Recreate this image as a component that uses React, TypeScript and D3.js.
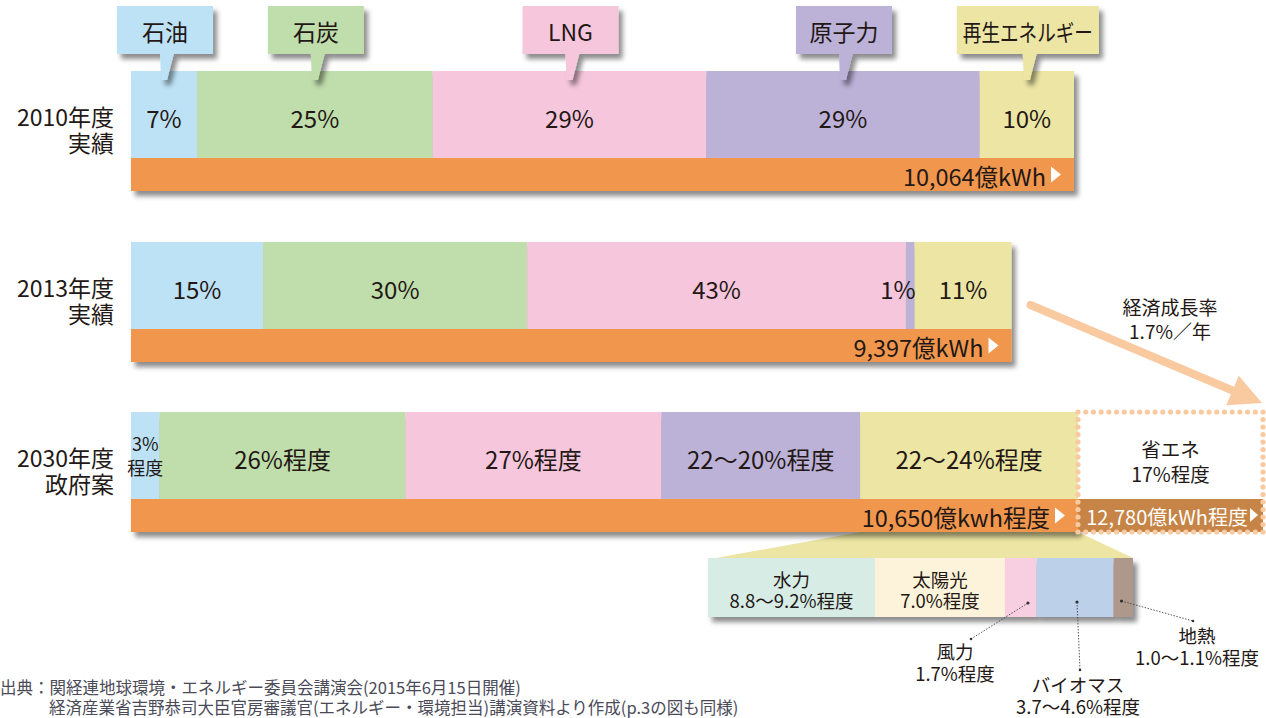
import React from 'react';
import * as d3 from 'd3';

// ---------- data ----------
const categories = ['石油', '石炭', 'LNG', '原子力', '再生エネルギー'];
const categoryColors = ['#bde2f6', '#c0deab', '#f6c6dc', '#bcb2d8', '#ece5a3'];
const rowYears = ['2010年度', '2013年度', '2030年度'];
const rowNotes = ['実績', '実績', '政府案'];
const share2010 = [7, 25, 29, 29, 10];
const share2013 = [15, 30, 43, 1, 11];
const share2030 = [3, 26, 27, 21, 23]; // midpoints of the ranges shown
const labels2010 = ['7%', '25%', '29%', '29%', '10%'];
const labels2013 = ['15%', '30%', '43%', '1%', '11%'];
const labels2030 = ['3%|程度', '26%程度', '27%程度', '22〜20%程度', '22〜24%程度'];
const totalsKWh = [10064, 9397, 10650];
const totalLabels = ['10,064億kWh', '9,397億kWh', '10,650億kwh程度'];
const savingLabels = ['省エネ', '17%程度'];
const savingTotalKWh = 12780;
const savingTotalLabel = '12,780億kWh程度';
const growthLabels = ['経済成長率', '1.7%／年'];
const renewNames = ['水力', '太陽光', '風力', 'バイオマス', '地熱'];
const renewShares = [9.0, 7.0, 1.7, 4.15, 1.05]; // midpoints
const renewLabels = ['8.8〜9.2%程度', '7.0%程度', '1.7%程度', '3.7〜4.6%程度', '1.0〜1.1%程度'];
const renewColors = ['#d6ece5', '#fdf3da', '#f7cfe1', '#bdd0ea', '#ad988b'];
const sourceLines = [
  '出典：関経連地球環境・エネルギー委員会講演会(2015年6月15日開催)',
  '経済産業省吉野恭司大臣官房審議官(エネルギー・環境担当)講演資料より作成(p.3の図も同様)',
];

const shares = [share2010, share2013, share2030];
const shareLabels = [labels2010, labels2013, labels2030];

// ---------- layout ----------
const W = 1266;
const H = 718;
const FONT = '"Noto Sans CJK JP", "Noto Sans", sans-serif';
const TEXT = '#231815';
const ORANGE = '#f1974d';
const BROWN = '#c68446';
const PEACH = '#f9c9a0';
const LEFT = 131;
const FULL = 943;
const rowTops = [71, 242, 412];
const COLOR_H = 87;
const ORANGE_H = 33;

const kwh = d3.scaleLinear().domain([0, totalsKWh[0]]).range([0, FULL]);
// 2030 bar is drawn at the same length as 2010 in the source
const rowWidths = [kwh(totalsKWh[0]), kwh(totalsKWh[1]), kwh(totalsKWh[0]) + 4];

function stackRow(vals: number[], width: number) {
  const x = d3.scaleLinear().domain([0, d3.sum(vals)]).range([LEFT, LEFT + width]);
  let acc = 0;
  return vals.map((v) => {
    const x0 = x(acc);
    acc += v;
    return { x0, x1: x(acc) };
  });
}

function Tri({ x, y }: { x: number; y: number }) {
  return <path d={`M${x},${y - 8}L${x + 10},${y}L${x},${y + 8}Z`} fill="#fff" />;
}

export default function App() {
  const rows = shares.map((s, i) => stackRow(s, rowWidths[i]));
  const end2030 = LEFT + rowWidths[2];
  const savEnd = Math.min(end2030 + kwh(savingTotalKWh - totalsKWh[2]), W - 3);
  const top30 = rowTops[2];
  const bot30 = top30 + COLOR_H + ORANGE_H;

  // dotted border dots
  const dots: [number, number][] = [];
  const step = 7.6;
  const nx = Math.round((savEnd - end2030) / step);
  const ny = Math.round((bot30 - top30) / step);
  for (let k = 0; k <= nx; k++) {
    const xx = end2030 + ((savEnd - end2030) * k) / nx;
    dots.push([xx, top30]);
    dots.push([xx, bot30]);
  }
  for (let k = 1; k < ny; k++) {
    const yy = top30 + ((bot30 - top30) * k) / ny;
    dots.push([end2030, yy]);
    dots.push([savEnd, yy]);
  }

  // renewables breakdown
  const renewSeg = rows[2][4];
  const bdLeft = 708;
  const bdRight = 1133;
  const bdTop = 558;
  const bdBot = 617;
  const bx = d3.scaleLinear().domain([0, d3.sum(renewShares)]).range([bdLeft, bdRight]);
  let racc = 0;
  const rsegs = renewShares.map((v) => {
    const x0 = bx(racc);
    racc += v;
    return { x0, x1: bx(racc) };
  });

  // arrow
  const a0: [number, number] = [LEFT + rowWidths[1] + 19, rowTops[1] + 63];
  const a1: [number, number] = [1262, 403];
  const ang = Math.atan2(a1[1] - a0[1], a1[0] - a0[0]);
  const headL = 32;
  const headW = 16;
  const hb: [number, number] = [a1[0] - headL * Math.cos(ang), a1[1] - headL * Math.sin(ang)];
  const px = -Math.sin(ang);
  const py = Math.cos(ang);

  const legendW = categories.map((c) => (c.length > 3 ? 142 : 96));

  return (
    <svg
      width={W}
      height={H}
      style={{ position: 'absolute', left: 0, top: 0, background: '#fff' }}
      fontFamily={FONT}
    >
      <defs>
        <filter id="sh" x="-5%" y="-10%" width="115%" height="140%">
          <feDropShadow dx="4" dy="5" stdDeviation="2.5" floodColor="#000" floodOpacity="0.45" />
        </filter>
        <filter id="shs" x="-30%" y="-30%" width="170%" height="190%">
          <feDropShadow dx="4" dy="5" stdDeviation="2.5" floodColor="#000" floodOpacity="0.45" />
        </filter>
      </defs>

      {/* trapezoid linking renewables to breakdown */}
      <path
        d={`M${renewSeg.x0},${bot30}L${renewSeg.x1},${bot30}L${bdRight},${bdTop}L${bdLeft + 8},${bdTop}Z`}
        fill={categoryColors[4]}
      />

      {/* main rows */}
      {rows.map((segs, i) => {
        const top = rowTops[i];
        const mid = top + COLOR_H / 2;
        const right = LEFT + rowWidths[i];
        const oy = top + COLOR_H + ORANGE_H / 2;
        return (
          <g key={i}>
            <g filter="url(#sh)">
              {segs.map((s, j) => (
                <rect key={j} x={s.x0} y={top} width={s.x1 - s.x0} height={COLOR_H} fill={categoryColors[j]} />
              ))}
              <rect x={LEFT} y={top + COLOR_H} width={rowWidths[i]} height={ORANGE_H} fill={ORANGE} />
            </g>
            {segs.map((s, j) => {
              const lab = shareLabels[i][j];
              const w = s.x1 - s.x0;
              if (lab.includes('|')) {
                const [l1, l2] = lab.split('|');
                return (
                  <text key={j} x={(s.x0 + s.x1) / 2} textAnchor="middle" fontSize={18} fill={TEXT}>
                    <tspan x={(s.x0 + s.x1) / 2} y={mid - 5}>{l1}</tspan>
                    <tspan x={(s.x0 + s.x1) / 2} y={mid + 19}>{l2}</tspan>
                  </text>
                );
              }
              return (
                <text
                  key={j}
                  x={w < 20 ? s.x1 + 1 : (s.x0 + s.x1) / 2}
                  y={mid + 3}
                  textAnchor={w < 20 ? 'end' : 'middle'}
                  dominantBaseline="central"
                  fontSize={24}
                  fill={TEXT}
                >
                  {lab}
                </text>
              );
            })}
            <text x={right - 28} y={oy + 1} textAnchor="end" dominantBaseline="central" fontSize={23.5} fill={TEXT}>
              {totalLabels[i]}
            </text>
            <Tri x={right - 23} y={oy} />
            <text textAnchor="end" fontSize={23} fill={TEXT}>
              <tspan x={114} y={mid + 11}>{rowYears[i]}</tspan>
              <tspan x={114} y={mid + 37}>{rowNotes[i]}</tspan>
            </text>
          </g>
        );
      })}

      {/* saving box */}
      <rect x={end2030} y={top30} width={savEnd - end2030} height={COLOR_H} fill="#fff" />
      <rect x={end2030} y={top30 + COLOR_H} width={savEnd - end2030} height={ORANGE_H} fill={BROWN} />
      {dots.map(([x, y], k) => (
        <circle key={k} cx={x} cy={y} r={2.6} fill={PEACH} />
      ))}
      <text textAnchor="middle" fontSize={19.5} fill={TEXT}>
        <tspan x={(end2030 + savEnd) / 2} y={top30 + 45}>{savingLabels[0]}</tspan>
        <tspan x={(end2030 + savEnd) / 2} y={top30 + 70}>{savingLabels[1]}</tspan>
      </text>
      <text
        x={savEnd - 15}
        y={top30 + COLOR_H + ORANGE_H / 2 + 1}
        textAnchor="end"
        dominantBaseline="central"
        fontSize={20}
        fill="#fff"
      >
        {savingTotalLabel}
      </text>
      <path
        d={`M${savEnd - 13},${top30 + COLOR_H + 9}L${savEnd - 5},${top30 + COLOR_H + 16}L${savEnd - 13},${top30 + COLOR_H + 23}Z`}
        fill="#fff"
      />

      {/* arrow */}
      <line x1={a0[0]} y1={a0[1]} x2={hb[0]} y2={hb[1]} stroke={PEACH} strokeWidth={8} strokeLinecap="round" />
      <path
        d={`M${a1[0]},${a1[1]}L${hb[0] + px * headW},${hb[1] + py * headW}L${hb[0] - px * headW},${hb[1] - py * headW}Z`}
        fill={PEACH}
      />
      <text textAnchor="middle" fontSize={19} fill={TEXT}>
        <tspan x={1170} y={315}>{growthLabels[0]}</tspan>
        <tspan x={1170} y={339}>{growthLabels[1]}</tspan>
      </text>

      {/* legend callouts */}
      {rows[0].map((s, j) => {
        const cx = (s.x0 + s.x1) / 2 + 1;
        const w = legendW[j];
        const long = categories[j].length > 3;
        return (
          <g key={j}>
            <g filter="url(#shs)">
              <rect x={cx - w / 2} y={6} width={w} height={48} fill={categoryColors[j]} />
              <path d={`M${cx - 5},53L${cx + 9},53L${cx + 2},80L${cx - 4},80Z`} fill={categoryColors[j]} />
            </g>
            <text
              x={cx}
              y={31}
              textAnchor="middle"
              dominantBaseline="central"
              fontSize={23}
              fill={TEXT}
              {...(long ? { textLength: w - 12, lengthAdjust: 'spacingAndGlyphs' } : {})}
            >
              {categories[j]}
            </text>
          </g>
        );
      })}

      {/* renewables breakdown bar */}
      <g filter="url(#sh)">
        {rsegs.map((s, j) => (
          <rect key={j} x={s.x0} y={bdTop} width={s.x1 - s.x0} height={bdBot - bdTop} fill={renewColors[j]} />
        ))}
      </g>
      {rsegs.slice(0, 2).map((s, j) => (
        <text key={j} textAnchor="middle" fontSize={18.5} fill={TEXT}>
          <tspan x={(s.x0 + s.x1) / 2} y={bdTop + 29}>{renewNames[j]}</tspan>
          <tspan x={(s.x0 + s.x1) / 2} y={bdTop + 50}>{renewLabels[j]}</tspan>
        </text>
      ))}

      {/* callouts for small renewables */}
      {[
        { j: 2, d: [rsegs[2].x0 + 23, 603], e: [971, 639], t: [955, 659] },
        { j: 3, d: [(rsegs[3].x0 + rsegs[3].x1) / 2 + 2, 602], e: [1080, 670], t: [1078, 692] },
        { j: 4, d: [rsegs[4].x0 + 8, 601], e: [1193, 621], t: [1197, 643] },
      ].map((c) => (
        <g key={c.j}>
          <line x1={c.d[0]} y1={c.d[1]} x2={c.e[0]} y2={c.e[1]} stroke="#444" strokeWidth={0.9} strokeDasharray="1.5 1.5" />
          <circle cx={c.d[0]} cy={c.d[1]} r={1.6} fill="#333" />
          <circle cx={c.e[0]} cy={c.e[1]} r={1.3} fill="#333" />
          <text textAnchor="middle" fontSize={18.5} fill={TEXT}>
            <tspan x={c.t[0]} y={c.t[1]}>{renewNames[c.j]}</tspan>
            <tspan x={c.t[0]} y={c.t[1] + 22}>{renewLabels[c.j]}</tspan>
          </text>
        </g>
      ))}

      {/* source */}
      <text fontSize={16.5} fill="#4a4a58">
        <tspan x={0} y={694}>{sourceLines[0]}</tspan>
        <tspan x={49} y={714}>{sourceLines[1]}</tspan>
      </text>
    </svg>
  );
}
